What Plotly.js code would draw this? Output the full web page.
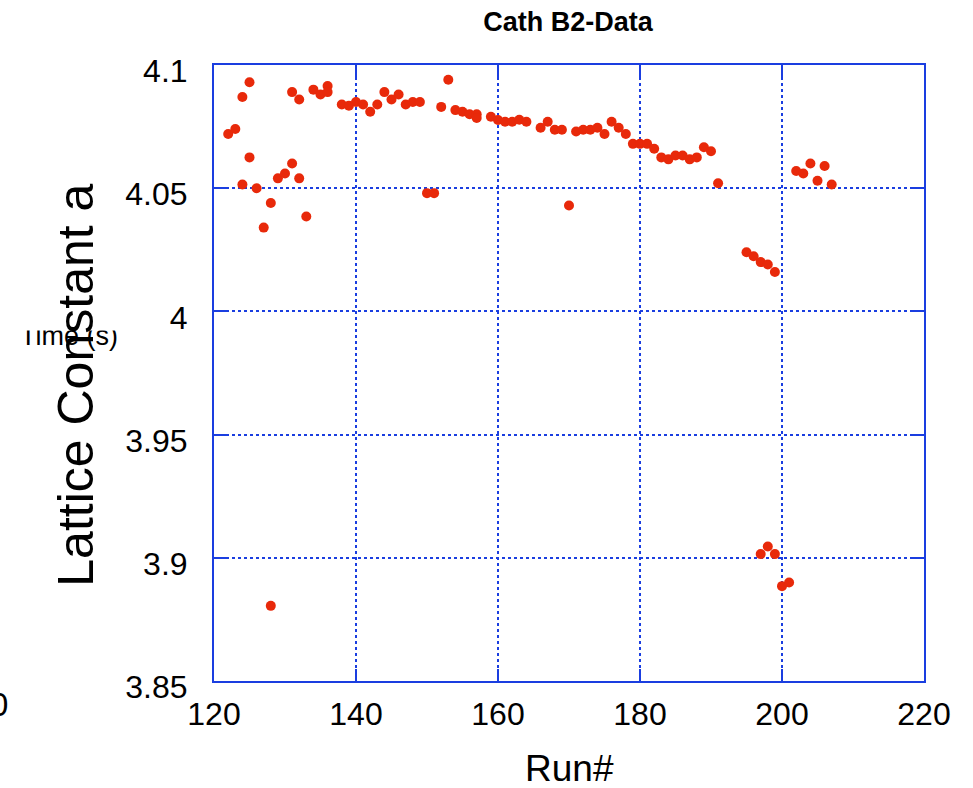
<!DOCTYPE html>
<html>
<head>
<meta charset="utf-8">
<script src="https://cdn.plot.ly/plotly-3.0.1.min.js"></script>
<style>html,body{margin:0;padding:0;background:#fff;}#chart{width:973px;height:788px;}</style>
</head>
<body>
<div id="chart"></div>
<script>
// Run numbers and lattice constants
const runNumbers = [122,123,124,125,125,124,126,128,127,129,130,131,132,133,131,132,134,135,136,136,
  138,139,140,141,142,143,144,145,146,147,148,149,150,151,152,153,154,155,156,157,157,159,160,161,162,163,164,
  166,167,168,169,170,171,172,173,174,175,176,177,178,179,180,181,182,183,184,185,186,187,188,189,190,191,
  195,196,197,198,199,197,198,199,200,201,202,203,204,205,206,207,128];
const latticeA = [4.072,4.074,4.087,4.093,4.0625,4.0515,4.050,4.044,4.034,4.054,4.056,4.060,4.054,4.0385,4.089,4.086,4.090,4.088,4.0915,4.089,
  4.084,4.0835,4.085,4.084,4.081,4.084,4.089,4.086,4.088,4.084,4.085,4.085,4.048,4.048,4.083,4.094,4.0817,4.081,4.080,4.080,4.0785,4.079,4.0777,4.077,4.077,4.0778,4.077,
  4.0745,4.077,4.0737,4.0737,4.043,4.073,4.0737,4.0737,4.0745,4.072,4.077,4.0745,4.072,4.068,4.068,4.068,4.066,4.0625,4.0617,4.0633,4.0633,4.0617,4.0625,4.0666,4.065,4.052,
  4.024,4.0224,4.020,4.019,4.016,3.9015,3.9046,3.9015,3.8885,3.890,4.057,4.056,4.060,4.053,4.059,4.0515,3.8805];

const xTickVals = [120,140,160,180,200,220];
const xTickText = ['120','140','160','180','200','220'];
const yTickVals = [3.85,3.9,3.95,4,4.05,4.1];
const yTickText = ['3.85','3.9','3.95','4','4.05','4.1'];

const chartTitle = 'Cath B2-Data';
const xTitle = 'Run#';
const yTitle = 'Lattice Constant a';
const strayLabel = 'Time (s)';
const strayZero = '0';

const blue = '#1a3ee0';
const font = 'Liberation Sans, Arial, Helvetica, sans-serif';

const trace = {
  x: runNumbers, y: latticeA, type: 'scatter', mode: 'markers',
  marker: {color: 'rgb(232,41,10)', size: 10, line: {width: 0}},
  hoverinfo: 'x+y', showlegend: false
};

const axisCommon = {
  showline: true, linecolor: blue, linewidth: 2, mirror: 'ticks',
  ticks: 'inside', ticklen: 12, tickwidth: 2, tickcolor: blue,
  showgrid: true, gridcolor: blue, gridwidth: 2, griddash: 'dot',
  zeroline: false, tickmode: 'array',
  tickfont: {family: font, size: 32, color: '#000'}
};

const layout = {
  width: 973, height: 788,
  margin: {l: 213.5, r: 48.5, t: 65, b: 107, pad: 0},
  paper_bgcolor: '#fff', plot_bgcolor: '#fff',
  title: {text: chartTitle, font: {family: font, size: 27, weight: 'bold', color: '#000'},
          x: 0.4986, xref: 'paper', xanchor: 'center', y: 1 - 22/788, yref: 'container', yanchor: 'middle'},
  xaxis: Object.assign({}, axisCommon, {range: [120, 220], tickvals: xTickVals, ticktext: xTickText, ticklabelstandoff: 4}),
  yaxis: Object.assign({}, axisCommon, {range: [3.85, 4.1], tickvals: yTickVals, ticktext: yTickText, ticklabelstandoff: 18, ticklabelshift: 6}),
  annotations: [
    {text: strayLabel, xref: 'paper', yref: 'paper', x: (68-213.5)/711, y: (681-336)/616,
     showarrow: false, font: {family: font, size: 27, color: '#000'}, xanchor: 'center', yanchor: 'middle'},
    {text: '&nbsp;', xref: 'paper', yref: 'paper', x: (70-213.5)/711, y: (681-313)/616,
     showarrow: false, width: 120, height: 32, bgcolor: '#fff', font: {size: 10}, xanchor: 'center', yanchor: 'middle'},
    {text: yTitle, xref: 'paper', yref: 'paper', x: (75-213.5)/711, y: (681-385)/616, textangle: -90,
     showarrow: false, font: {family: font, size: 50, color: '#000'}, xanchor: 'center', yanchor: 'middle'},
    {text: xTitle, xref: 'paper', yref: 'paper', x: (570-213.5)/711, y: (681-768)/616,
     showarrow: false, font: {family: font, size: 37, color: '#000'}, xanchor: 'center', yanchor: 'middle'},
    {text: strayZero, xref: 'paper', yref: 'paper', x: (-2-213.5)/711, y: (681-704)/616,
     showarrow: false, font: {family: font, size: 33, color: '#000'}, xanchor: 'center', yanchor: 'middle'}
  ]
};

Plotly.newPlot('chart', [trace], layout, {displayModeBar: false, staticPlot: true});
</script>
</body>
</html>
